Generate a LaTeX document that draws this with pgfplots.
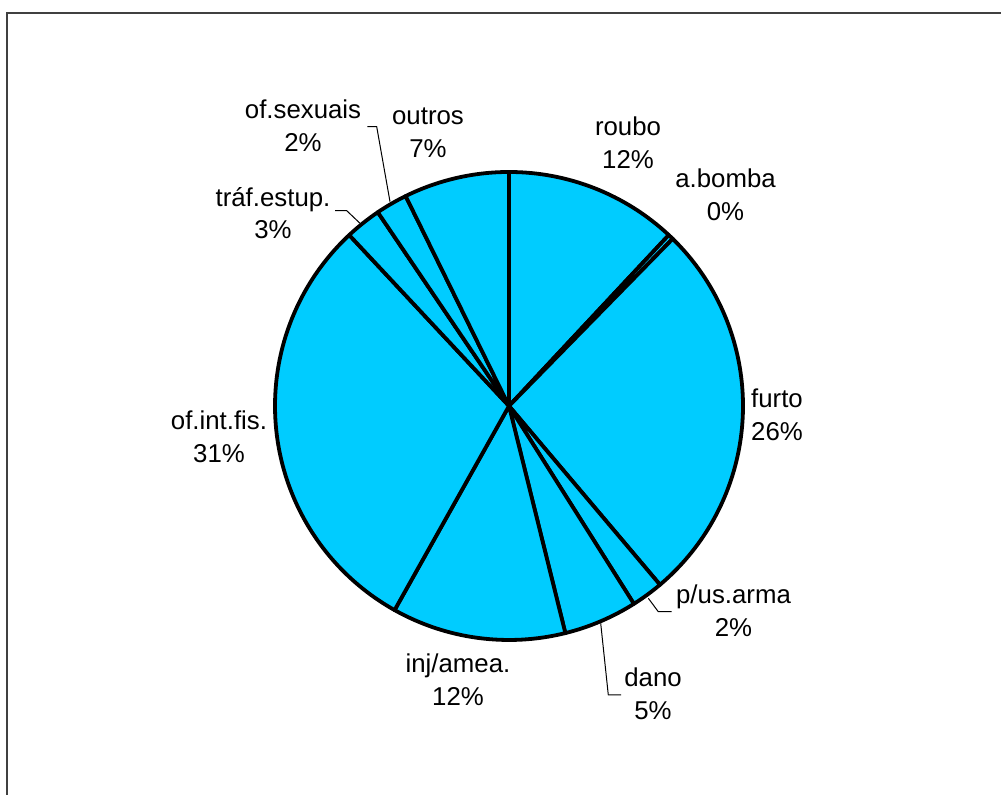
\documentclass[border=0pt]{standalone}
\usepackage{pgfplots}
\usepackage{pgfplotstable}
\pgfplotsset{compat=1.18}
\usepackage{fontspec}
\setmainfont{Liberation Sans}
\definecolor{piefill}{RGB}{0,204,255}
\definecolor{framegray}{RGB}{64,64,64}

% slice shares in percent, clockwise from 12 o'clock
\pgfplotstableread{
label value
roubo 11.96
a.bomba 0.37
furto 26.50
p/us.arma 2.20
dano 5.09
inj/amea. 12.00
of.int.fis. 29.90
tráf.estup. 2.49
of.sexuais 2.19
outros 7.28
}\piedata

\begin{document}
\begin{tikzpicture}
\begin{axis}[
  width=500.5pt, height=397.5pt, scale only axis,
  xmin=0, xmax=1001, ymin=0, ymax=795,
  hide axis, clip=true,
]
% frame (right and bottom edges lie outside the picture)
\draw[framegray, line width=1pt] (axis cs:7,782) rectangle (axis cs:1010,-10);

% pie slices
\pgfplotstablegetrowsof{\piedata}
\pgfmathtruncatemacro{\N}{\pgfplotsretval-1}
\def\total{0}
\pgfplotsforeachungrouped \i in {0,...,\N}{%
  \pgfplotstablegetelem{\i}{value}\of\piedata
  \pgfmathsetmacro{\total}{\total+\pgfplotsretval}%
}
\def\cum{0}
\pgfplotsforeachungrouped \i in {0,...,\N}{%
  \pgfplotstablegetelem{\i}{value}\of\piedata
  \pgfmathsetmacro{\sa}{90-\cum/\total*360}%
  \pgfmathsetmacro{\cum}{\cum+\pgfplotsretval}%
  \pgfmathsetmacro{\ea}{90-\cum/\total*360}%
  \edef\slice{\noexpand\filldraw[fill=piefill, draw=black, line width=1.9pt, line join=round]
    (axis cs:509,389) -- ++(\sa:117pt) arc[start angle=\sa, end angle=\ea, radius=117pt] -- cycle;}%
  \slice
}

% leader lines
\addplot[black, line width=0.5pt, no marks] coordinates {(648.3,196.7) (658.3,183.3) (671.7,183.3)};
\addplot[black, line width=0.5pt, no marks] coordinates {(600.7,171.7) (608.3,100) (621,100)};
\addplot[black, line width=0.5pt, no marks] coordinates {(360,571.7) (346.7,584.3) (335,584.3)};
\addplot[black, line width=0.5pt, no marks] coordinates {(390,593.3) (376.7,668.3) (367.3,668.3)};

% labels
\tikzset{lbl/.style={align=center, font=\fontsize{12.9}{16.3}\selectfont, inner sep=0pt}}
\node[lbl] at (axis cs:628,652) {roubo\\12\%};
\node[lbl] at (axis cs:725.5,600.5) {a.bomba\\0\%};
\node[lbl] at (axis cs:777,380) {furto\\26\%};
\node[lbl] at (axis cs:733.5,184) {p/us.arma\\2\%};
\node[lbl] at (axis cs:653,101) {dano\\5\%};
\node[lbl] at (axis cs:458,115) {inj/amea.\\12\%};
\node[lbl] at (axis cs:219,358.3) {of.int.fis.\\31\%};
\node[lbl] at (axis cs:273,582) {tráf.estup.\\3\%};
\node[lbl] at (axis cs:303,669.5) {of.sexuais\\2\%};
\node[lbl] at (axis cs:428,662.5) {outros\\7\%};
\end{axis}
\pgfresetboundingbox
\useasboundingbox (current axis.south west) rectangle (current axis.north east);
\end{tikzpicture}
\end{document}
